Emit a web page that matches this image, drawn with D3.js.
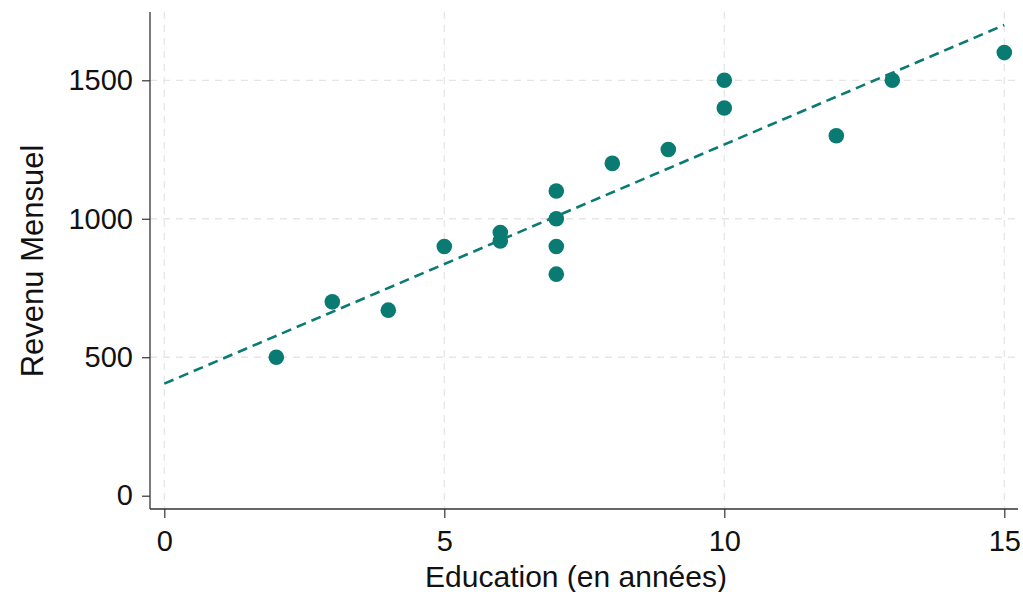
<!DOCTYPE html>
<html>
<head>
<meta charset="utf-8">
<script src="https://cdn.jsdelivr.net/npm/d3@7"></script>
<style>
  body { margin: 0; background: #fff; }
  text { font-family: "Liberation Sans", Arial, sans-serif; fill: #111; }
</style>
</head>
<body>
<script>
// data
const education = [2, 3, 4, 5, 6, 6, 7, 7, 7, 7, 8, 9, 10, 10, 12, 13, 15];
const revenu    = [500, 700, 670, 900, 950, 920, 1100, 1000, 900, 800, 1200, 1250, 1500, 1400, 1300, 1500, 1600];
const xTicks = [0, 5, 10, 15];
const yTicks = [0, 500, 1000, 1500];

const teal = "#0a7b73";
const outerWidth = 1023, outerHeight = 592;

// plot region (axis lines) and inner data range
const box = {left: 150, right: 1018, top: 12, bottom: 509};

const svg = d3.select("body").append("svg")
    .attr("width", outerWidth)
    .attr("height", outerHeight);

const xScale = d3.scaleLinear().domain([0, 15]).range([164.3, 1004.3]);
const yScale = d3.scaleLinear().domain([0, 1500]).range([495.7, 80.3]);

// grid
const grid = svg.append("g")
    .attr("stroke", "#e6e6e6")
    .attr("stroke-width", 1.3)
    .attr("stroke-dasharray", "7,6");
grid.selectAll(".vgrid").data(xTicks).join("line")
    .attr("class", "vgrid")
    .attr("x1", d => xScale(d)).attr("x2", d => xScale(d))
    .attr("y1", box.top).attr("y2", box.bottom);
grid.selectAll(".hgrid").data(yTicks.filter(d => d > 0)).join("line")
    .attr("class", "hgrid")
    .attr("x1", box.left).attr("x2", box.right)
    .attr("y1", d => yScale(d)).attr("y2", d => yScale(d));

// points
const pts = education.map((e, i) => ({x: e, y: revenu[i]}));
svg.selectAll(".dot").data(pts).join("circle")
    .attr("class", "dot")
    .attr("cx", d => xScale(d.x))
    .attr("cy", d => yScale(d.y))
    .attr("r", 7.8)
    .attr("fill", teal);

// linear fit (OLS)
const mx = d3.mean(education), my = d3.mean(revenu);
const sxy = d3.sum(pts, d => (d.x - mx) * (d.y - my));
const sxx = d3.sum(pts, d => (d.x - mx) * (d.x - mx));
const slope = sxy / sxx, intercept = my - slope * mx;
const fit = [0, 15].map(x => ({x: x, y: intercept + slope * x}));

svg.append("path")
    .datum(fit)
    .attr("d", d3.line().x(d => xScale(d.x)).y(d => yScale(d.y)))
    .attr("fill", "none")
    .attr("stroke", teal)
    .attr("stroke-width", 2.6)
    .attr("stroke-dasharray", "10,6");

// axes
const yAxis = svg.append("g")
    .attr("transform", "translate(" + box.left + ",0)")
    .call(d3.axisLeft(yScale).tickValues(yTicks).tickSize(8).tickPadding(9).tickFormat(d3.format("d")));
const xAxis = svg.append("g")
    .attr("transform", "translate(0," + box.bottom + ")")
    .call(d3.axisBottom(xScale).tickValues(xTicks).tickSize(9).tickPadding(12));

[xAxis, yAxis].forEach(a => {
    a.select(".domain").remove();
    a.selectAll(".tick line").attr("stroke", "#333").attr("stroke-width", 1.2);
    a.selectAll(".tick text").attr("font-size", 29).attr("fill", "#111")
        .style("font-family", "'Liberation Sans', Arial, sans-serif");
});

svg.append("line")
    .attr("x1", box.left).attr("x2", box.left)
    .attr("y1", box.top).attr("y2", box.bottom)
    .attr("stroke", "#333").attr("stroke-width", 1.3);
svg.append("line")
    .attr("x1", box.left).attr("x2", box.right)
    .attr("y1", box.bottom).attr("y2", box.bottom)
    .attr("stroke", "#333").attr("stroke-width", 1.3);

// titles
svg.append("text")
    .attr("x", 576).attr("y", 587)
    .attr("text-anchor", "middle")
    .attr("font-size", 30)
    .text("Education (en années)");

svg.append("text")
    .attr("transform", "translate(43,261) rotate(-90)")
    .attr("text-anchor", "middle")
    .attr("font-size", 31)
    .text("Revenu Mensuel");
</script>
</body>
</html>
